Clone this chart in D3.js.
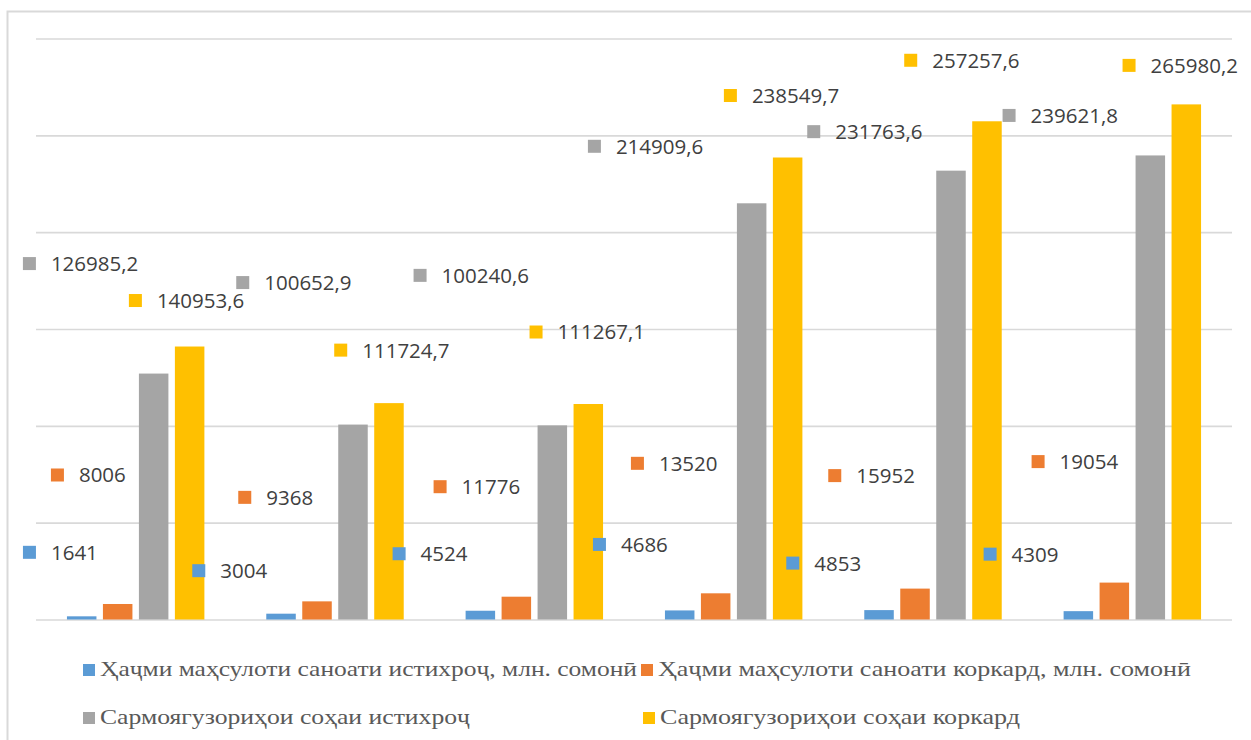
<!DOCTYPE html>
<html>
<head>
<meta charset="utf-8">
<script src="https://cdn.jsdelivr.net/npm/d3@7"></script>
<style>
  html, body { margin: 0; padding: 0; background: #fff; }
  svg { display: block; }
  .legend-text { font-family: "Liberation Serif", "DejaVu Serif", "Times New Roman", serif; }
</style>
</head>
<body>
<div id="chart"></div>
<script>
// ---- data ----
const categories = ["1", "2", "3", "4", "5", "6"];
const seriesNames = [
  "Ҳаҷми маҳсулоти саноати истихроҷ, млн. сомонӣ",
  "Ҳаҷми маҳсулоти саноати коркард, млн. сомонӣ",
  "Сармоягузориҳои соҳаи истихроҷ",
  "Сармоягузориҳои соҳаи коркард"
];
const extractOutput = [1641, 3004, 4524, 4686, 4853, 4309];
const processOutput = [8006, 9368, 11776, 13520, 15952, 19054];
const extractInvest = [126985.2, 100652.9, 100240.6, 214909.6, 231763.6, 239621.8];
const processInvest = [140953.6, 111724.7, 111267.1, 238549.7, 257257.6, 265980.2];
const yTicks = [0, 50000, 100000, 150000, 200000, 250000, 300000];

// ---- layout / style (kept separate from data) ----
const colors = ["#5B9BD5", "#ED7D31", "#A5A5A5", "#FFC000"];
// label anchor offsets relative to bar left / bar top: [dx, dy]
const labelOffsets = [
  [[-44, -64], [-74, -43], [-73, -57], [-72, -66], [-78, -47], [-80, -57]],
  [[-52, -129], [-64, -104], [-68, -110], [-70, -130], [-72, -113], [-68, -121]],
  [[-116, -110], [-102, -142], [-124, -150], [-149, -57], [-129, -39], [-133, -40]],
  [[-46, -46], [-40, -53], [-44, -72], [-49, -62], [-68, -61], [-49, -39]]
];
const legendPos = [[83, 670], [641, 670], [83, 718], [643, 718]];
const legendWidths = [537, 533, 370, 360];

const W = 1251, H = 740;
const svg = d3.select("#chart").append("svg").attr("width", W).attr("height", H);

// chart border
svg.append("rect")
  .attr("x", 7.5).attr("y", 11.5).attr("width", W + 20).attr("height", H + 20)
  .attr("fill", "#fff").attr("stroke", "#d9d9d9").attr("stroke-width", 2);

const values = [extractOutput, processOutput, extractInvest, processInvest];

const x0 = d3.scaleBand().domain(categories).range([36, 1232]).paddingInner(0).paddingOuter(0);
const x1 = d3.scaleBand().domain(d3.range(4)).range([0, x0.bandwidth()])
  .paddingInner(0.18).paddingOuter(0.86);
const y = d3.scaleLinear().domain([0, 300000]).range([619.5, 38.5]);

// gridlines via axis
const grid = svg.append("g")
  .call(d3.axisLeft(y).tickValues(yTicks).tickSize(-(1232 - 36)).tickFormat(""))
  .attr("transform", "translate(36,0)");
grid.select(".domain").remove();
grid.selectAll(".tick line").attr("stroke", "#d9d9d9").attr("stroke-width", 1.6);

// bars
const seriesG = svg.selectAll("g.series")
  .data(values)
  .join("g")
  .attr("class", "series")
  .attr("fill", (d, i) => colors[i]);

seriesG.each(function(vals, si) {
  d3.select(this).selectAll("rect")
    .data(vals)
    .join("rect")
    .attr("x", (d, gi) => x0(categories[gi]) + x1(si))
    .attr("width", x1.bandwidth())
    .attr("y", d => y(d))
    .attr("height", d => y(0) - y(d));
});

// data labels with keys
const fmt = v => String(v).replace(".", ",");
const labelG = svg.append("g");
values.forEach((vals, si) => {
  vals.forEach((v, gi) => {
    const bx = x0(categories[gi]) + x1(si);
    const by = y(v);
    const [dx, dy] = labelOffsets[si][gi];
    const kx = bx + dx, ky = by + dy;
    labelG.append("rect")
      .attr("x", kx).attr("y", ky - 6.5).attr("width", 13).attr("height", 13)
      .attr("fill", colors[si]);
    labelG.append("text")
      .attr("x", kx + 28).attr("y", ky + 2)
      .attr("dominant-baseline", "middle")
      .attr("font-family", "'Open Sans', 'Noto Sans', sans-serif")
      .attr("font-size", 20.5)
      .attr("fill", "#404040")
      .text(fmt(v));
  });
});

// legend
const legend = svg.append("g");
seriesNames.forEach((name, i) => {
  const [lx, ly] = legendPos[i];
  legend.append("rect")
    .attr("x", lx).attr("y", ly - 6).attr("width", 12).attr("height", 12)
    .attr("fill", colors[i]);
  legend.append("text")
    .attr("class", "legend-text")
    .attr("x", lx + 17).attr("y", ly + 1)
    .attr("dominant-baseline", "middle")
    .attr("font-size", 22)
    .attr("textLength", legendWidths[i])
    .attr("lengthAdjust", "spacingAndGlyphs")
    .attr("fill", "#595959")
    .text(name);
});
</script>
</body>
</html>
